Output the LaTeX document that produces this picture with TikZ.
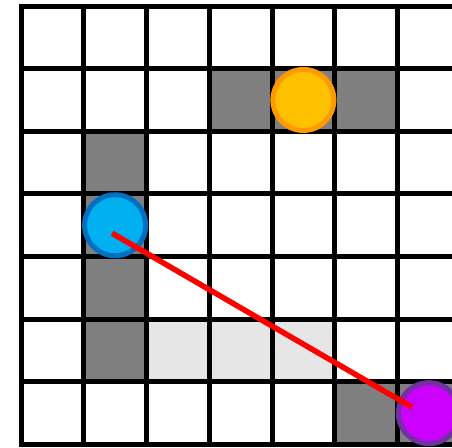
\documentclass[tikz,border=0pt]{standalone}
\usepackage{tikz}
\usetikzlibrary{calc}
\definecolor{darkcell}{HTML}{7F7F7F}
\definecolor{lightcell}{HTML}{E6E6E6}
\definecolor{orfill}{HTML}{FFC000}
\definecolor{ordraw}{HTML}{FF9900}
\definecolor{blfill}{HTML}{00B0F0}
\definecolor{bldraw}{HTML}{0070C0}
\definecolor{pufill}{HTML}{CC00FF}
\definecolor{pudraw}{HTML}{7030A0}
\tikzset{
  gridline/.style={line width=5pt, black},
  token/.style={circle, minimum size=61pt, inner sep=0pt, line width=5pt},
  pathline/.style={line width=5.5pt, red}
}
\newcommand{\cellfill}[3]{\fill[#1] ({21+62.75*#2},{6+62.64*#3}) rectangle ({21+62.75*(#2+1)},{6+62.64*(#3+1)});}
\begin{document}
\begin{tikzpicture}[x=1pt,y=-1pt]
\useasboundingbox (0,0) rectangle (452,447);
\clip (0,0) rectangle (452,447);
\fill[white] (0,0) rectangle (452,447);
% dark cells
\foreach \c/\r in {3/1,4/1,5/1,1/2,1/3,1/4,1/5,5/6,6/6} {\cellfill{darkcell}{\c}{\r}}
% light cells
\foreach \c/\r in {2/5,3/5,4/5} {\cellfill{lightcell}{\c}{\r}}
% grid
\foreach \i in {0,...,7} {
  \draw[gridline] ({21+62.75*\i},3.5) -- ({21+62.75*\i},447);
}
\foreach \j in {0,...,7} {
  \draw[gridline] (18.5,{6+62.64*\j}) -- (460,{6+62.64*\j});
}
% tokens
\node[token, fill=orfill, draw=ordraw] (orange) at ({21+62.75*4.5},{6+62.64*1.5}) {};
\node[token, fill=blfill, draw=bldraw] (blue) at ({21+62.75*1.5},{6+62.64*3.5}) {};
\node[token, fill=pufill, draw=pudraw] (purple) at ({21+62.75*6.5},{6+62.64*6.5}) {};
% path
\coordinate (ps) at ($(blue.center)+(-3,8)$);
\coordinate (pe) at ($(purple.center)+(-17,-6)$);
\draw[pathline] (ps) -- (pe);
\end{tikzpicture}
\end{document}
